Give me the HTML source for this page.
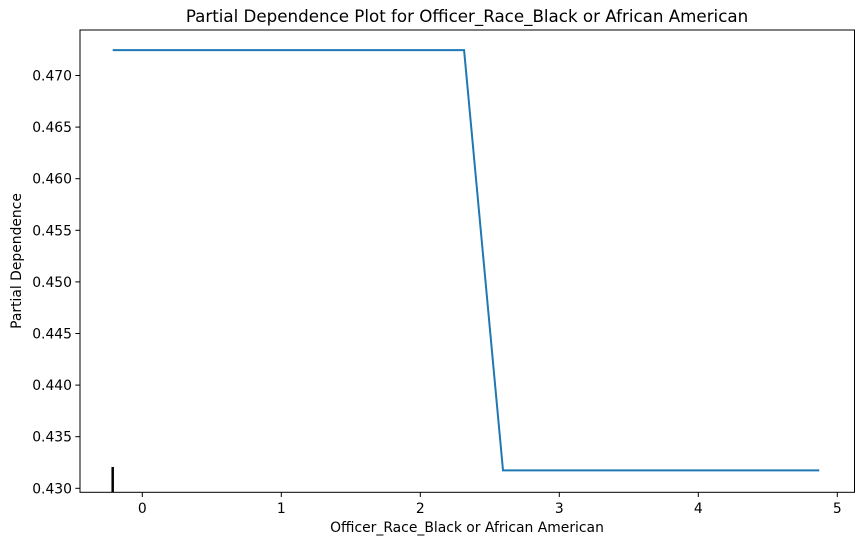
<!DOCTYPE html>
<html><head><meta charset="utf-8"><style>
body{margin:0;background:#fff;}
svg{display:block;font-family:"DejaVu Sans","Liberation Sans",sans-serif;}
</style></head><body>
<svg id="c" width="864" height="545" viewBox="0 0 864 545">
<rect width="864" height="545" fill="#fff"/>
<text x="467" y="22" font-size="16.7" text-anchor="middle">Partial Dependence Plot for Officer_Race_Black or African American</text>
<g id="plot"></g>
<rect x="80" y="30" width="774.5" height="462.3" fill="none" stroke="#000" stroke-width="1"/>
<text x="467" y="532" font-size="13.9" text-anchor="middle">Officer_Race_Black or African American</text>
<text transform="translate(21,261) rotate(-90)" font-size="13.9" text-anchor="middle">Partial Dependence</text>
</svg>
<script>
const xs=[-0.213,2.315,2.595,4.87];
const ys=[0.47246,0.47246,0.43174,0.43174];
const rug=[-0.213];
const xTicks=[0,1,2,3,4,5];
const yTicks=[0.430,0.435,0.440,0.445,0.450,0.455,0.460,0.465,0.470];
const X=v=>142.3+v*139;
const Y=v=>488.3-(v-0.430)/0.005*51.6;
const g=document.getElementById('plot');
const NS='http://www.w3.org/2000/svg';
function mk(t,a){const e=document.createElementNS(NS,t);for(const k in a)e.setAttribute(k,a[k]);g.appendChild(e);return e;}
xTicks.forEach(t=>{
 const l=mk('line',{x1:X(t),x2:X(t),y1:492.3,y2:497,stroke:'#000'});
 
 
 const s=mk('text',{x:X(t),y:513,'font-size':13.9,'text-anchor':'middle'});s.textContent=t;
 
 
});
yTicks.forEach(t=>{
 const l=mk('line',{x1:75.3,x2:80,y1:Y(t),y2:Y(t),stroke:'#000'});
 
 
 const s=mk('text',{x:72,y:Y(t)+5,'font-size':13.9,'text-anchor':'end'});s.textContent=t.toFixed(3);
 
 
});
const p=mk('polyline',{points:xs.map((x,i)=>X(x)+','+Y(ys[i])).join(' '),fill:'none',stroke:'#1f77b4','stroke-width':2});


rug.forEach(r=>{
 const l=mk('line',{x1:X(r),x2:X(r),y1:467,y2:492.3,stroke:'#000','stroke-width':2.5});
 
 
});
</script>
</body></html>
